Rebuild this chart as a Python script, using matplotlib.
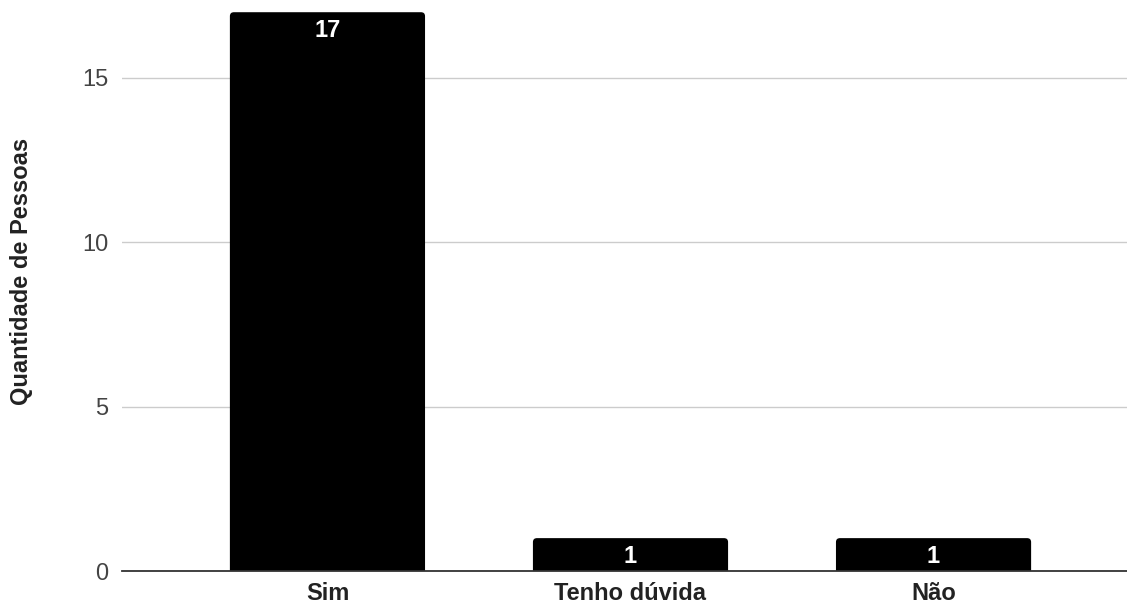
import matplotlib.pyplot as plt
from matplotlib.patches import FancyBboxPatch

plt.rcParams['font.family'] = ['Liberation Sans', 'DejaVu Sans']

categorias = ["Sim", "Tenho dúvida", "Não"]
quantidades = [17, 1, 1]
ticks_y = [0, 5, 10, 15]

fig = plt.figure(figsize=(11.27, 6.05), dpi=100)
W, H = 1127, 605
# eixo começa em x=122 e passa um pouco da borda direita
ax = fig.add_axes([122 / W, 34 / H, (1139 - 122) / W, 571 / H])

pos = range(len(categorias))
barras = ax.bar(pos, quantidades, width=0.644, color="black", zorder=3)

# cantos superiores arredondados: troca cada retângulo por uma caixa arredondada
px_x, px_y = 303.0, 32.87  # pixels por unidade de dado
r = 4 / px_x
for b in barras:
    b.set_visible(False)
    x0, w, h = b.get_x(), b.get_width(), b.get_height()
    caixa = FancyBboxPatch((x0 + r, -0.3), w - 2 * r, h + 0.3 - r * px_x / px_y,
                           boxstyle=f"round,pad={r},rounding_size={r}",
                           mutation_aspect=px_x / px_y,
                           facecolor="black", edgecolor="none", zorder=3)
    ax.add_patch(caixa)

for b, v in zip(barras, quantidades):
    ax.annotate(str(v), (b.get_x() + b.get_width() / 2, v),
                xytext=(0, -5), textcoords="offset points",
                ha="center", va="top", color="white",
                fontsize=17, fontweight="bold", zorder=4)

ax.set_xlim(-0.678, 2.678)
ax.set_ylim(0, 571 / px_y)
ax.set_yticks(ticks_y)
ax.set_xticks(list(pos))
ax.set_xticklabels(categorias, fontsize=17, fontweight="bold", color="#222222")
ax.tick_params(axis="x", length=0, pad=8)
ax.tick_params(axis="y", length=0, pad=10, labelsize=17, labelcolor="#444444")

ax.grid(axis="y", color="#cccccc", linewidth=1, zorder=0)
for s in ["top", "right", "left"]:
    ax.spines[s].set_visible(False)
ax.spines["bottom"].set_color("#333333")
ax.spines["bottom"].set_linewidth(1.3)
ax.spines["bottom"].set_zorder(5)

fig.text(22 / W, 1 - 271 / H, "Quantidade de Pessoas", rotation=90,
         ha="center", va="center", fontsize=17, fontweight="bold", color="#222222")

fig.savefig("out.png", dpi=100)
